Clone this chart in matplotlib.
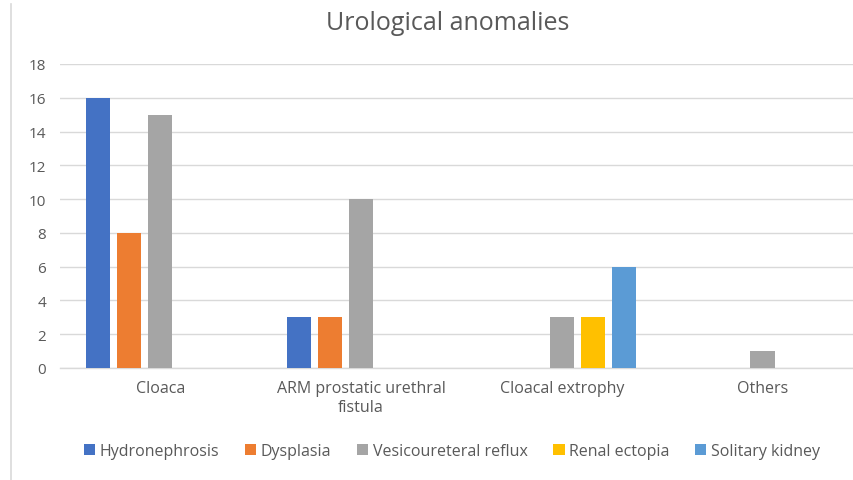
import matplotlib
matplotlib.use("Agg")
import matplotlib.pyplot as plt
from matplotlib.lines import Line2D
import numpy as np

categories = ["Cloaca", "ARM prostatic urethral\nfistula", "Cloacal extrophy", "Others"]
series_names = ["Hydronephrosis", "Dysplasia", "Vesicoureteral reflux", "Renal ectopia", "Solitary kidney"]
hydronephrosis = [16, 3, 0, 0]
dysplasia = [8, 3, 0, 0]
vesicoureteral_reflux = [15, 10, 3, 1]
renal_ectopia = [0, 0, 3, 0]
solitary_kidney = [0, 0, 6, 0]
yticks = [0, 2, 4, 6, 8, 10, 12, 14, 16, 18]

values = [hydronephrosis, dysplasia, vesicoureteral_reflux, renal_ectopia, solitary_kidney]
colors = ["#4472C4", "#ED7D31", "#A5A5A5", "#FFC000", "#5B9BD5"]

plt.rcParams['font.family'] = ['Open Sans', 'DejaVu Sans']
txt = "#595959"
grid = "#D9D9D9"

W, H = 854, 481
fig = plt.figure(figsize=(W / 100, H / 100), dpi=100)
ax = fig.add_axes([60 / W, 112 / H, (W - 60) / W, (369 - 65) / H])

x = np.arange(len(categories))
step = 0.155
bw = 0.12
for i, (vals, col, name) in enumerate(zip(values, colors, series_names)):
    ax.bar(x + (i - 2) * step, vals, width=bw, color=col, label=name, zorder=3)

ax.set_xlim(-0.5, 3.456)
ax.set_ylim(0, 18)
ax.set_yticks(yticks)
ax.set_yticklabels([str(v) for v in yticks], fontsize=11, color=txt)
ax.set_xticks(x)
ax.set_xticklabels(categories, fontsize=11.5, color=txt, linespacing=1.25,
                   multialignment="center")
ax.tick_params(axis='both', length=0)
ax.tick_params(axis='y', pad=10)
ax.tick_params(axis='x', pad=9)
ax.grid(axis='y', color=grid, linewidth=1, zorder=0)
for s in ["top", "right", "left"]:
    ax.spines[s].set_visible(False)
ax.spines["bottom"].set_color(grid)
ax.spines["bottom"].set_linewidth(1)

fig.text(448 / W, 1 - 24 / H, "Urological anomalies", ha="center", va="center",
         fontsize=18, color=txt)

fig.add_artist(Line2D([11 / W, 11 / W], [0, 1 - 5 / H], color=grid, linewidth=1.2))

leg = fig.legend(loc="center", bbox_to_anchor=(452 / W, 1 - 452 / H), ncol=5,
                 frameon=False, fontsize=11.5, handlelength=0.7, handleheight=0.7,
                 handletextpad=0.3, columnspacing=1.6, labelcolor=txt)

fig.savefig("out.png", dpi=100)
